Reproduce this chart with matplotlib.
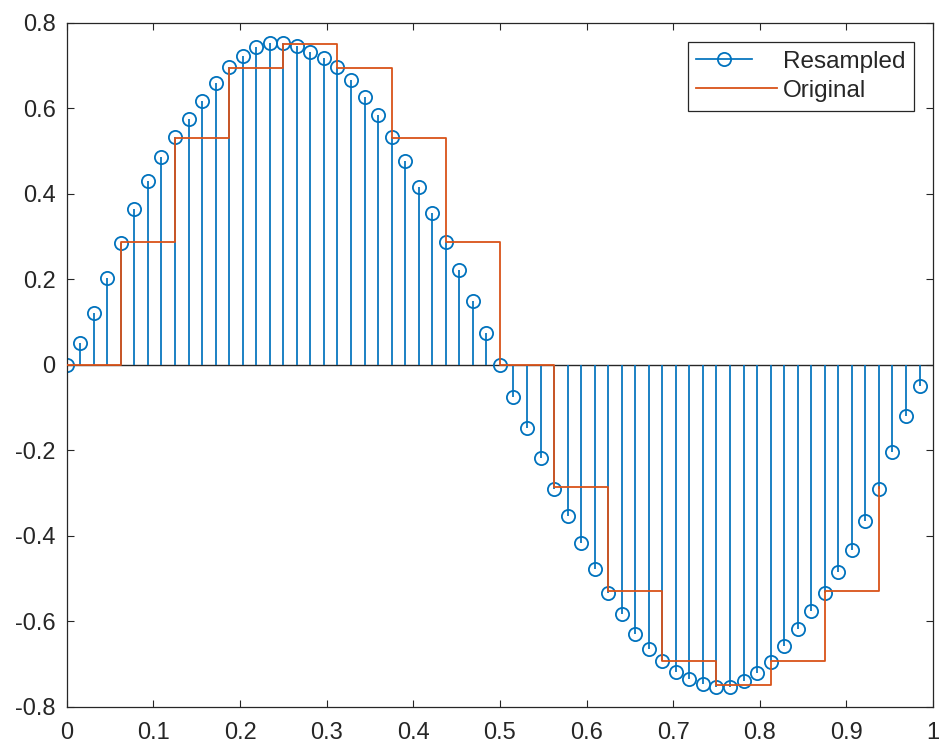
import matplotlib
matplotlib.use("Agg")
import matplotlib.pyplot as plt
from matplotlib.lines import Line2D
from matplotlib.legend_handler import HandlerLine2D
import numpy as np

# -----------------------------------
# Data
# -----------------------------------
resampled_y = [
    0.000, 0.050, 0.120, 0.203, 0.285, 0.364, 0.430, 0.485,
    0.532, 0.575, 0.618, 0.658, 0.696, 0.722, 0.743, 0.753,
    0.753, 0.745, 0.732, 0.718, 0.696, 0.666, 0.627, 0.584,
    0.532, 0.477, 0.416, 0.354, 0.286, 0.222, 0.148, 0.075,
    0.000, -0.075, -0.148, -0.218, -0.290, -0.354, -0.416, -0.477,
    -0.533, -0.582, -0.630, -0.666, -0.694, -0.719, -0.736, -0.747,
    -0.753, -0.755, -0.741, -0.722, -0.695, -0.657, -0.618, -0.576,
    -0.533, -0.486, -0.433, -0.366, -0.290, -0.205, -0.121, -0.049,
]
resampled_x = [k / 64 for k in range(64)]

original_y = [
    0.000, 0.287, 0.530, 0.693, 0.750, 0.693, 0.530, 0.287,
    0.000, -0.287, -0.530, -0.693, -0.750, -0.693, -0.530, -0.287,
]
original_x = [k / 16 for k in range(16)]

x_ticks = [0, 0.1, 0.2, 0.3, 0.4, 0.5, 0.6, 0.7, 0.8, 0.9, 1]
x_labels = ["0", "0.1", "0.2", "0.3", "0.4", "0.5", "0.6", "0.7", "0.8", "0.9", "1"]
y_ticks = [-0.8, -0.6, -0.4, -0.2, 0, 0.2, 0.4, 0.6, 0.8]
y_labels = ["-0.8", "-0.6", "-0.4", "-0.2", "0", "0.2", "0.4", "0.6", "0.8"]

blue = "#0072BD"
orange = "#D95319"
axis_color = "#262626"


# legend handle like MATLAB's stem entry: line ending in the marker
class StemHandler(HandlerLine2D):
    def get_xdata(self, legend, xdescent, ydescent, width, height, fontsize):
        end = -xdescent + 0.69 * width
        return [-xdescent, end], [end]


plt.rcParams['font.family'] = ['Liberation Sans', 'DejaVu Sans']

fig = plt.figure(figsize=(9.4, 7.45), dpi=100)
ax = fig.add_axes([0.0710, 0.0514, 0.9216, 0.9181])

# -----------------------------------
# Stem plot of resampled signal
# -----------------------------------
markerline, stemlines, baseline = ax.stem(resampled_x, resampled_y, basefmt=" ")
plt.setp(stemlines, color=blue, linewidth=1.25)
plt.setp(markerline, color=blue, marker="o", markersize=9.5,
         markerfacecolor="none", markeredgewidth=1.3)
ax.axhline(0, color=axis_color, linewidth=1.0, zorder=1)

# -----------------------------------
# Stairs of original signal
# -----------------------------------
ax.step(original_x, original_y, where="post", color=orange, linewidth=1.3, zorder=3)

ax.set_xlim(0, 1)
ax.set_ylim(-0.8, 0.8)
ax.set_xticks(x_ticks)
ax.set_xticklabels(x_labels)
ax.set_yticks(y_ticks)
ax.set_yticklabels(y_labels)

ax.tick_params(axis="both", direction="in", length=5, width=0.8,
               colors=axis_color, labelsize=17, top=True, right=True)
ax.tick_params(axis="x", pad=11)
ax.tick_params(axis="y", pad=8)
for spine in ax.spines.values():
    spine.set_color(axis_color)
    spine.set_linewidth(0.9)

# -----------------------------------
# Legend
# -----------------------------------
h_res = Line2D([], [], color=blue, linewidth=1.25, marker="o", markersize=9.5,
               markerfacecolor="none", markeredgewidth=1.3)
h_orig = Line2D([], [], color=orange, linewidth=1.3)
leg = ax.legend([h_res, h_orig], ["Resampled", "Original"],
                handler_map={h_res: StemHandler(numpoints=1)},
                loc="upper right", fontsize=17.5, fancybox=False,
                edgecolor=axis_color, framealpha=1,
                handlelength=3.3, handletextpad=0.25,
                labelspacing=0.3, borderpad=0.35, borderaxespad=0.8)
leg.get_frame().set_linewidth(0.9)
for t in leg.get_texts():
    t.set_color(axis_color)

plt.savefig("out.png", dpi=100)
